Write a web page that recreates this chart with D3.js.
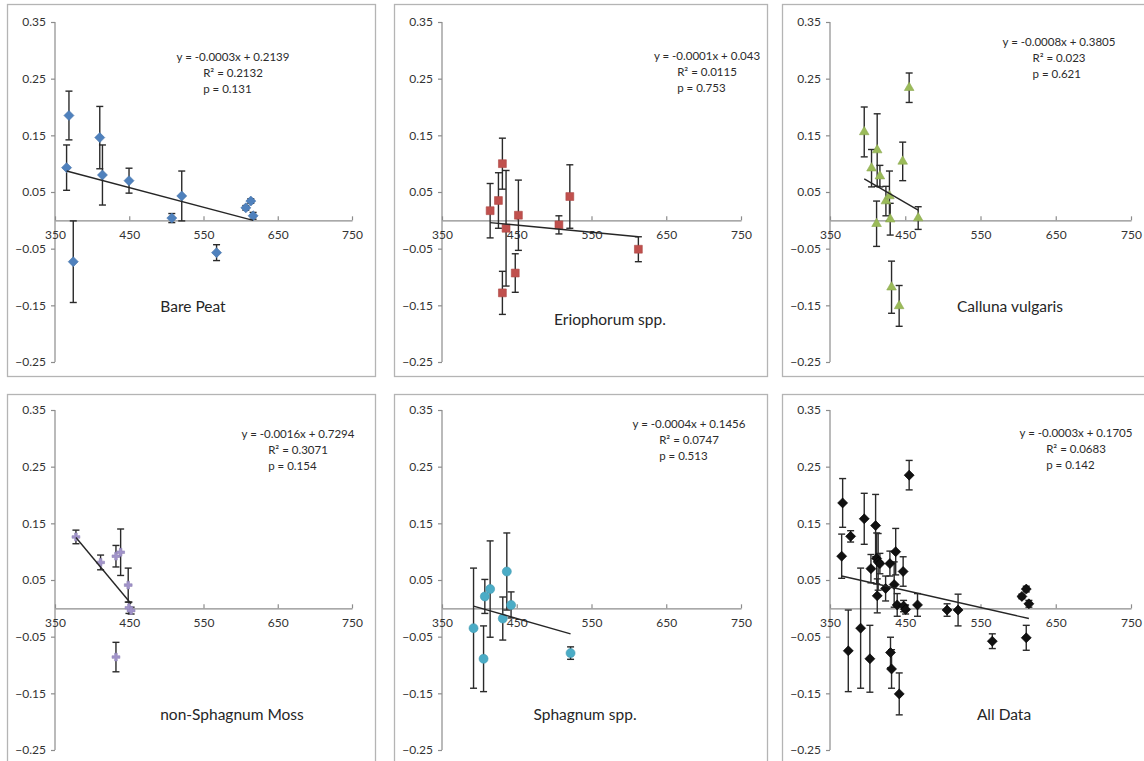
<!DOCTYPE html>
<html>
<head>
<meta charset="utf-8">
<script src="https://cdn.jsdelivr.net/npm/d3@7"></script>
<style>
  body { margin: 0; background: #fff; }
  text { font-family: Lato, 'Open Sans', sans-serif; }
</style>
</head>
<body>
<div class="chart" style="width:1144px;height:761px;"></div>
<script>
// values (x, y, error)
const bareX = [368.8, 365.6, 374.6, 410.3, 413.9, 449.7, 507.3, 520.7, 567.6, 607.0, 613.7, 616.8];
const bareY = [0.185, 0.093, -0.073, 0.146, 0.080, 0.070, 0.004, 0.043, -0.057, 0.022, 0.034, 0.008];
const bareErr = [0.043, 0.040, 0.072, 0.055, 0.053, 0.022, 0.008, 0.044, 0.014, 0.004, 0.004, 0.006];

const erioX = [414.4, 425.5, 430.8, 430.8, 435.7, 448.0, 452.2, 506.4, 521.0, 612.7];
const erioY = [0.017, 0.035, 0.100, -0.128, -0.014, -0.093, 0.009, -0.008, 0.042, -0.051];
const erioErr = [0.048, 0.049, 0.045, 0.038, 0.102, 0.034, 0.062, 0.016, 0.056, 0.022];

const callX = [395.5, 405.2, 412.7, 416.3, 411.9, 424.3, 429.0, 430.0, 431.8, 441.9, 446.6, 455.2, 467.2];
const callY = [0.156, 0.092, 0.124, 0.078, -0.006, 0.034, 0.043, 0.002, -0.118, -0.151, 0.104, 0.234, 0.004];
const callErr = [0.044, 0.033, 0.064, 0.019, 0.040, 0.026, 0.044, 0.028, 0.046, 0.036, 0.034, 0.026, 0.020];

const mossX = [378.2, 411.4, 432.1, 438.4, 432.1, 448.6, 449.6, 452.5];
const mossY = [0.126, 0.081, 0.092, 0.099, -0.086, 0.041, 0.001, -0.004];
const mossErr = [0.012, 0.013, 0.019, 0.041, 0.026, 0.030, 0.010, 0.006];

const sphX = [392.2, 405.6, 407.3, 414.4, 431.3, 436.7, 442.4, 522.0];
const sphY = [-0.035, -0.089, 0.021, 0.034, -0.018, 0.065, 0.006, -0.079];
const sphErr = [0.106, 0.058, 0.030, 0.085, 0.038, 0.068, 0.023, 0.011];

const allX = [366.8, 365.5, 374.3, 377.4, 390.7, 395.5, 403.0, 404.4, 410.6, 412.0, 414.0, 416.3, 412.8,
  423.9, 429.6, 430.4, 431.8, 437.3, 435.3, 439.3, 442.0, 447.2, 447.8, 450.5, 455.2, 466.3,
  505.6, 520.2, 565.7, 605.0, 610.8, 614.3, 610.8];
const allY = [0.186, 0.092, -0.075, 0.127, -0.035, 0.158, -0.089, 0.070, 0.146, 0.088, 0.082, 0.079, 0.022,
  0.035, 0.079, -0.078, -0.107, 0.100, 0.042, 0.006, -0.151, 0.065, 0.004, -0.002, 0.235, 0.006,
  -0.003, -0.003, -0.058, 0.021, 0.034, 0.008, -0.052];
const allErr = [0.043, 0.039, 0.072, 0.010, 0.106, 0.045, 0.059, 0.025, 0.055, 0.045, 0.050, 0.018, 0.030,
  0.022, 0.022, 0.027, 0.034, 0.041, 0.040, 0.020, 0.037, 0.026, 0.010, 0.008, 0.026, 0.020,
  0.011, 0.028, 0.013, 0.004, 0.005, 0.006, 0.022];

// trend line y at the smallest and largest x of each panel
const bareTrend = [0.087, 0.0];
const erioTrend = [-0.004, -0.029];
const callTrend = [0.073, 0.018];
const mossTrend = [0.125, 0.008];
const sphTrend = [0.004, -0.045];
const allTrend = [0.057, -0.018];

const bareStats = ['y = -0.0003x + 0.2139', 'R² = 0.2132', 'p = 0.131'];
const erioStats = ['y = -0.0001x + 0.043', 'R² = 0.0115', 'p = 0.753'];
const callStats = ['y = -0.0008x + 0.3805', 'R² = 0.023', 'p = 0.621'];
const mossStats = ['y = -0.0016x + 0.7294', 'R² = 0.3071', 'p = 0.154'];
const sphStats = ['y = -0.0004x + 0.1456', 'R² = 0.0747', 'p = 0.513'];
const allStats = ['y = -0.0003x + 0.1705', 'R² = 0.0683', 'p = 0.142'];

const xTicks = [350, 450, 550, 650, 750];
const yTicks = [0.35, 0.25, 0.15, 0.05, -0.05, -0.15, -0.25];

const width = 1144, height = 761;

const plot = d3.select('.chart').append('svg')
  .attr('width', width)
  .attr('height', height)

// column / row frames of the 2x3 grid
const cols = [
  {left: 7, right: 375, x0: 55, x1: 352},
  {left: 394, right: 767, x0: 442, x1: 741},
  {left: 782, right: 1152, x0: 830, x1: 1131}
];
const rows = [
  {top: 4, bottom: 376, y0: 362, y1: 22},
  {top: 394, bottom: 772, y0: 750, y1: 410}
];

const pack = (xs, ys, es) => xs.map((x, i) => ({x: x, y: ys[i], e: es[i]}));

const panels = [
  {name: 'Bare Peat', c: 0, r: 0, pts: pack(bareX, bareY, bareErr), trend: bareTrend, stats: bareStats,
    marker: d3.symbolSquare, size: 50, rot: 45, color: '#4F81BD', eq: [233, 57], title: [193, 307]},
  {name: 'Eriophorum spp.', c: 1, r: 0, pts: pack(erioX, erioY, erioErr), trend: erioTrend, stats: erioStats,
    marker: d3.symbolSquare, size: 62, rot: 0, color: '#C0504D', eq: [707, 56], title: [610, 320]},
  {name: 'Calluna vulgaris', c: 2, r: 0, pts: pack(callX, callY, callErr), trend: callTrend, stats: callStats,
    marker: d3.symbolTriangle, size: 40, rot: 0, color: '#9BBB59', eq: [1059, 42], title: [1010, 307]},
  {name: 'non-Sphagnum Moss', c: 0, r: 1, pts: pack(mossX, mossY, mossErr), trend: mossTrend, stats: mossStats,
    marker: d3.symbolCross, size: 34, rot: 0, color: '#A193CA', eq: [298, 434], title: [232, 715]},
  {name: 'Sphagnum spp.', c: 1, r: 1, pts: pack(sphX, sphY, sphErr), trend: sphTrend, stats: sphStats,
    marker: d3.symbolCircle, size: 64, rot: 0, color: '#4BACC6', eq: [689, 424], title: [585, 715]},
  {name: 'All Data', c: 2, r: 1, pts: pack(allX, allY, allErr), trend: allTrend, stats: allStats,
    marker: d3.symbolSquare, size: 50, rot: 45, color: '#111111', eq: [1076, 433], title: [1004, 715]}
];

panels.forEach(p => {
  const col = cols[p.c], row = rows[p.r];

  // outer border
  plot.append('rect')
    .attr('x', col.left + 0.5)
    .attr('y', row.top + 0.5)
    .attr('width', col.right - col.left)
    .attr('height', row.bottom - row.top)
    .style('fill', 'none')
    .style('stroke', '#b4b4b4')
    .style('stroke-width', '1.3px')

  const x = d3.scaleLinear().domain([350, 750]).range([col.x0, col.x1]);
  const y = d3.scaleLinear().domain([-0.25, 0.35]).range([row.y0, row.y1]);

  // y axis
  const yAxis = plot.append('g')
    .attr('transform', `translate(${col.x0},0)`)
    .call(d3.axisLeft(y).tickValues(yTicks).tickSize(4).tickPadding(5).tickFormat(d3.format('.2f')));
  yAxis.select('.domain').attr('d', `M0,${row.y1}V${row.y0}`);

  // x axis crossing at zero, ticks pointing up
  const xAxis = plot.append('g')
    .attr('transform', `translate(0,${y(0)})`)
    .call(d3.axisBottom(x).tickValues(xTicks).tickSizeInner(-4).tickSizeOuter(0).tickPadding(10).tickFormat(d3.format('d')));

  [yAxis, xAxis].forEach(a => {
    a.selectAll('.domain, line').style('stroke', '#8c8c8c').style('stroke-width', '1.2px');
    a.selectAll('text').style('font-size', '12px').style('fill', '#333')
      .style('font-family', 'Lato, sans-serif');
  });

  // error bars
  const eb = plot.append('g').style('stroke', '#2a2a2a').style('stroke-width', '1.4px');
  p.pts.forEach(d => {
    eb.append('line').attr('x1', x(d.x)).attr('x2', x(d.x)).attr('y1', y(d.y - d.e)).attr('y2', y(d.y + d.e));
    [d.y - d.e, d.y + d.e].forEach(v => {
      eb.append('line').attr('x1', x(d.x) - 3.5).attr('x2', x(d.x) + 3.5).attr('y1', y(v)).attr('y2', y(v));
    });
  });

  // markers
  const sym = d3.symbol().type(p.marker).size(p.size);
  plot.append('g').selectAll('path')
    .data(p.pts)
    .join('path')
    .attr('d', sym)
    .attr('transform', d => `translate(${x(d.x)},${y(d.y)}) rotate(${p.rot})`)
    .style('fill', p.color)
    .style('stroke', p.c === 2 && p.r === 1 ? '#000' : d3.color(p.color).darker(0.3))
    .style('stroke-width', '0.6px')

  // trend line from min x to max x
  const ext = d3.extent(p.pts, d => d.x);
  plot.append('line')
    .attr('x1', x(ext[0]))
    .attr('x2', x(ext[1]))
    .attr('y1', y(p.trend[0]))
    .attr('y2', y(p.trend[1]))
    .style('stroke', '#262626')
    .style('stroke-width', '1.4px')

  // equation, R² and p
  const eq = plot.append('g').style('font-size', '11.5px').style('fill', '#2b2b2b');
  eq.append('text').attr('x', p.eq[0]).attr('y', p.eq[1]).attr('dy', '0.35em')
    .attr('text-anchor', 'middle').text(p.stats[0]);
  const r2 = eq.append('text').attr('x', p.eq[0]).attr('y', p.eq[1] + 16).attr('dy', '0.35em')
    .attr('text-anchor', 'middle').text(p.stats[1]);
  const rx = r2.node().getBBox().x;
  eq.append('text').attr('x', rx).attr('y', p.eq[1] + 32).attr('dy', '0.35em')
    .text(p.stats[2]);

  // panel name
  plot.append('text')
    .attr('x', p.title[0])
    .attr('y', p.title[1])
    .attr('dy', '0.35em')
    .attr('text-anchor', 'middle')
    .style('font-size', '15.5px')
    .style('fill', '#262626')
    .text(p.name)
});
</script>
</body>
</html>
